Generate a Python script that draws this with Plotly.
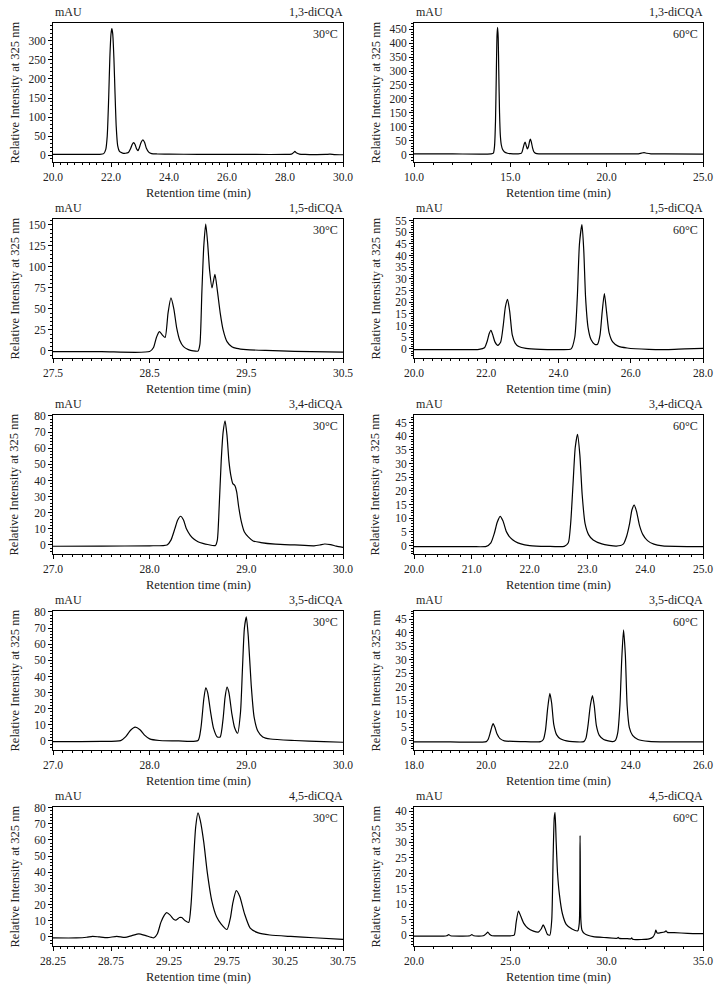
import plotly.graph_objects as go

# ---------------- data ----------------
compounds = ["1,3-diCQA", "1,5-diCQA", "3,4-diCQA", "3,5-diCQA", "4,5-diCQA"]
temperatures = ["30°C", "60°C"]

rt_13_30 = [20.0, 21.0, 21.6, 21.75, 21.82, 21.87, 21.92, 21.96, 22.0, 22.03, 22.06, 22.1, 22.14, 22.18, 22.23, 22.3, 22.4, 22.5, 22.6, 22.68, 22.73, 22.78, 22.83, 22.88, 22.93, 22.98, 23.04, 23.1, 23.16, 23.22, 23.3, 23.4, 23.6, 24.0, 25.0, 26.0, 27.0, 28.0, 28.22, 28.3, 28.34, 28.39, 28.5, 28.7, 29.0, 29.4, 29.55, 29.7, 30.0]
i_13_30 = [2, 2, 2.2, 4, 15, 50, 150, 255, 318, 332, 318, 255, 160, 75, 25, 9, 5.5, 5, 7, 18, 28, 33, 28, 17, 12, 20, 34, 40, 33, 18, 8, 4, 3, 2.5, 2.2, 2, 1.8, 1.8, 2.5, 7, 10, 6, 2.8, 2, 1.5, 1.8, 2.5, 1.5, 1]

rt_13_60 = [10.0, 12.0, 14.0, 14.12, 14.18, 14.23, 14.27, 14.31, 14.34, 14.37, 14.4, 14.44, 14.48, 14.53, 14.6, 14.7, 14.85, 15.0, 15.4, 15.58, 15.66, 15.72, 15.77, 15.82, 15.88, 15.94, 16.0, 16.04, 16.09, 16.15, 16.22, 16.32, 16.5, 17.0, 19.0, 21.0, 21.65, 21.8, 21.94, 22.08, 22.3, 23.0, 25.0]
i_13_60 = [2, 2, 2.2, 5, 30, 120, 280, 430, 457, 420, 300, 150, 70, 35, 18, 9, 4.5, 3, 2.5, 5, 22, 38, 45, 33, 20, 28, 48, 55, 45, 25, 10, 4, 2.5, 2.2, 2, 2, 2.5, 5, 7, 4.5, 2.5, 2, 1.5]

rt_15_30 = [27.5, 28.0, 28.5, 28.54, 28.57, 28.6, 28.63, 28.66, 28.69, 28.72, 28.75, 28.78, 28.81, 28.85, 28.9, 28.95, 29.0, 29.02, 29.04, 29.06, 29.08, 29.1, 29.12, 29.145, 29.175, 29.2, 29.23, 29.26, 29.3, 29.35, 29.4, 29.5, 29.7, 30.0, 30.5]
i_15_30 = [-1, -1, -0.8, 4, 16, 23, 19, 16, 45, 63, 50, 27, 13, 5, 1.5, 0, -0.3, 8, 70, 125, 151, 128, 96, 75, 91, 72, 45, 25, 11, 5, 3, 1.5, 0.5, -0.5, -1.5]

rt_15_60 = [20.0, 21.0, 21.8, 21.95, 22.03, 22.08, 22.13, 22.18, 22.24, 22.32, 22.4, 22.47, 22.53, 22.59, 22.65, 22.72, 22.8, 22.9, 23.1, 23.5, 24.0, 24.35, 24.45, 24.52, 24.58, 24.65, 24.7, 24.75, 24.82, 24.9, 25.0, 25.08, 25.15, 25.21, 25.27, 25.33, 25.4, 25.5, 25.65, 25.9, 26.5, 27.0, 27.5, 28.0]
i_15_60 = [-0.3, -0.3, -0.2, 0.5, 3.5, 6.5, 8, 6, 3, 1.5, 3, 10, 18, 21.2, 16, 6, 2.5, 1, 0.2, -0.2, -0.3, 0, 5, 22, 45, 53.3, 42, 22, 9, 4, 2, 2, 6, 16, 23.7, 16, 7, 3, 1.2, 0.4, -0.2, -0.3, 0, 0.2]

rt_34_30 = [27.0, 27.5, 28.0, 28.18, 28.22, 28.26, 28.29, 28.32, 28.35, 28.38, 28.42, 28.46, 28.5, 28.55, 28.6, 28.68, 28.7, 28.72, 28.74, 28.76, 28.78, 28.8, 28.82, 28.84, 28.86, 28.88, 28.9, 28.92, 28.95, 28.98, 29.02, 29.07, 29.15, 29.3, 29.5, 29.7, 29.76, 29.81, 29.87, 29.93, 30.0]
i_34_30 = [-0.8, -0.7, -0.5, 0, 3, 10, 15.5, 17.8, 15.5, 10, 6, 3.5, 2, 1, 0.3, -0.3, 3, 25, 52, 70, 77, 68, 52, 43, 38, 37, 33, 24, 14, 8, 5, 2.5, 1.5, 0.5, 0, -0.5, 0, 0.6, 0.2, -0.7, -1.5]

rt_34_60 = [20.0, 21.0, 21.25, 21.33, 21.39, 21.44, 21.49, 21.54, 21.6, 21.67, 21.75, 21.85, 22.0, 22.3, 22.6, 22.67, 22.71, 22.75, 22.79, 22.83, 22.87, 22.91, 22.96, 23.02, 23.1, 23.25, 23.5, 23.62, 23.68, 23.73, 23.77, 23.81, 23.85, 23.9, 23.96, 24.04, 24.15, 24.3, 25.0]
i_34_60 = [-0.4, -0.4, -0.3, 1, 4.5, 8.5, 10.7, 9, 5, 2.8, 1.5, 0.6, 0, -0.3, -0.3, 1, 8, 22, 36, 40.7, 33, 18.5, 8, 4, 2, 0.6, -0.2, 0.5, 3.5, 8, 13, 14.8, 12.5, 7.5, 4, 1.8, 0.5, -0.1, -0.4]

rt_35_30 = [27.0, 27.5, 27.7, 27.75, 27.8, 27.85, 27.9, 27.95, 28.0, 28.1, 28.3, 28.5, 28.53, 28.56, 28.58, 28.6, 28.63, 28.66, 28.7, 28.73, 28.76, 28.78, 28.8, 28.82, 28.85, 28.88, 28.91, 28.94, 28.96, 28.98, 29.0, 29.02, 29.05, 29.08, 29.12, 29.17, 29.25, 29.5, 29.8, 30.0]
i_35_30 = [-0.4, -0.3, 0.2, 2.5, 6.5, 8.6, 7, 3.5, 1.3, 0.3, 0, 0.3, 8, 26, 33, 30, 18, 8, 2.5, 2.5, 14, 27, 33.4, 30, 17, 8, 4.8, 18, 45, 70, 77, 65, 35, 15, 6, 2.5, 1.2, 0.3, -0.4, -0.8]

rt_35_60 = [18.0, 19.0, 20.0, 20.05, 20.1, 20.15, 20.19, 20.24, 20.3, 20.38, 20.5, 21.0, 21.5, 21.58, 21.64, 21.7, 21.76, 21.81, 21.87, 21.95, 22.05, 22.3, 22.7, 22.76, 22.82, 22.88, 22.94, 22.99, 23.05, 23.13, 23.25, 23.5, 23.58, 23.64, 23.7, 23.75, 23.8, 23.85, 23.9, 23.96, 24.05, 24.2, 24.5, 25.0, 26.0]
i_35_60 = [-0.4, -0.4, -0.3, 0.5, 2.5, 5, 6.4, 5, 2.5, 0.8, 0, -0.3, -0.3, 0.5, 4, 12, 17.6, 14, 6, 2.2, 0.8, -0.2, -0.3, 1, 6, 13, 16.8, 13, 5.5, 2, 0.5, -0.3, 0.3, 3, 13, 30, 41.1, 32, 13, 5, 2, 0.5, -0.2, -0.4, -0.4]

rt_45_30 = [28.25, 28.45, 28.54, 28.59, 28.65, 28.72, 28.8, 28.87, 28.93, 28.99, 29.05, 29.12, 29.15, 29.18, 29.21, 29.23, 29.26, 29.29, 29.31, 29.34, 29.36, 29.39, 29.42, 29.44, 29.46, 29.48, 29.5, 29.52, 29.55, 29.58, 29.62, 29.66, 29.7, 29.75, 29.78, 29.8, 29.83, 29.86, 29.9, 29.95, 30.02, 30.12, 30.3, 30.5, 30.75]
i_45_30 = [-0.6, -0.6, -0.2, 0.4, 0, -0.4, 0.4, -0.3, 0.8, 1.9, 0.8, -0.5, 2, 9, 13.5, 15, 13.5, 11, 10.4, 12, 12, 10, 9, 20, 45, 68, 76.8, 72, 58.5, 40, 22, 12.5, 8, 4.6, 12, 21, 28.6, 25, 14.6, 5.5, 2.5, 1.2, 0.3, -0.5, -1.5]

rt_45_60 = [20.0, 21.5, 21.7, 21.8, 21.9, 22.5, 22.9, 23.0, 23.1, 23.6, 23.75, 23.83, 23.92, 24.05, 24.5, 25.0, 25.2, 25.3, 25.42, 25.55, 25.7, 25.9, 26.2, 26.45, 26.6, 26.7, 26.8, 26.92, 27.05, 27.15, 27.22, 27.28, 27.32, 27.38, 27.45, 27.55, 27.7, 27.9, 28.2, 28.5, 28.58, 28.62, 28.66, 28.72, 28.85, 29.3, 30.0, 30.55, 30.6, 30.65, 31.0, 31.25, 31.3, 31.35, 31.8, 32.2, 32.4, 32.5, 32.55, 32.62, 32.8, 33.0, 33.08, 33.15, 33.5, 34.2, 35.0]
i_45_60 = [-0.3, -0.3, -0.2, 0.2, -0.2, -0.3, -0.2, 0.2, -0.2, -0.2, 0.5, 1.0, 0.3, -0.2, -0.2, -0.2, 0, 4, 7.8, 6, 3.8, 2.3, 1.3, 1, 2, 3.3, 2.2, 0.3, 0, 5, 25, 38, 39.6, 30, 20, 13, 7, 3.5, 2, 1.4, 4, 32.2, 5, 1.6, 0.5, -0.5, -0.8, -1.0, -0.7, -1.05, -1.1, -1.2, -0.9, -1.3, -1.4, -1.2, -0.6, 0.5, 1.6, 0.7, 0.8, 1.0, 1.4, 0.9, 0.8, 0.6, 0.5]

# x ranges / ticks, y ranges / ticks per panel (row, col)
x_ranges = [[(20, 30), (10, 25)], [(27.5, 30.5), (20, 28)], [(27, 30), (20, 25)], [(27, 30), (18, 26)], [(28.25, 30.75), (20, 35)]]
x_dticks = [[2, 5], [1, 2], [1, 1], [1, 2], [0.5, 5]]
x_minor = [[0.25, 1], [0.1, 0.25], [0.1, 0.2], [0.1, 0.25], [0.0625, 1]]
x_formats = [[".1f", ".1f"], [".1f", ".1f"], [".1f", ".1f"], [".1f", ".1f"], [".2f", ".1f"]]
y_ranges = [[(-18, 347), (-27, 473)], [(-8.5, 157), (-3.9, 55.7)], [(-5.6, 80.6), (-3.1, 47.8)], [(-5.6, 80.6), (-3.4, 48.1)], [(-5.6, 80.4), (-3.5, 41.4)]]
y_dticks = [[50, 50], [25, 5], [10, 5], [10, 5], [10, 5]]
y_tops = [[300, 450], [150, 55], [80, 45], [80, 45], [80, 40]]

series = [[(rt_13_30, i_13_30), (rt_13_60, i_13_60)],
          [(rt_15_30, i_15_30), (rt_15_60, i_15_60)],
          [(rt_34_30, i_34_30), (rt_34_60, i_34_60)],
          [(rt_35_30, i_35_30), (rt_35_60, i_35_60)],
          [(rt_45_30, i_45_30), (rt_45_60, i_45_60)]]

# ---------------- layout geometry ----------------
W, H = 719, 989
col_px = [(53, 343), (414, 703)]
row_top_px = [23, 219, 415, 611, 807]
plot_h = 139
FONT = "Liberation Serif"
TXT = "#222"

def px_x(p):
    return p / W

def px_y(p):
    return 1 - p / H

fig = go.Figure()
layout = dict(width=W, height=H, margin=dict(l=0, r=0, t=0, b=0, autoexpand=False),
              paper_bgcolor="white", plot_bgcolor="white", showlegend=False,
              font=dict(family=FONT, size=12, color=TXT))
annotations = []

for r in range(5):
    for c in range(2):
        k = r * 2 + c + 1
        xa = "xaxis" if k == 1 else f"xaxis{k}"
        ya = "yaxis" if k == 1 else f"yaxis{k}"
        xr = "x" if k == 1 else f"x{k}"
        yr = "y" if k == 1 else f"y{k}"
        x0p, x1p = col_px[c]
        t = row_top_px[r]
        b = t + plot_h
        xs, ys = series[r][c]
        fig.add_trace(go.Scatter(x=xs, y=ys, mode="lines", xaxis=xr, yaxis=yr,
                                 line=dict(color="black", width=1.2, shape="spline", smoothing=0.6),
                                 hoverinfo="skip"))
        xmin, xmax = x_ranges[r][c]
        layout[xa] = dict(domain=[px_x(x0p), px_x(x1p)], anchor=yr, range=[xmin, xmax],
                          tick0=xmin, dtick=x_dticks[r][c], tickformat=x_formats[r][c],
                          showline=True, linecolor="black", linewidth=1, mirror=True,
                          ticks="outside", ticklen=4, tickcolor="black", tickwidth=1,
                          showgrid=False, zeroline=False, automargin=False,
                          tickfont=dict(family=FONT, size=11.5, color=TXT),
                          minor=dict(ticks="outside", ticklen=2, dtick=x_minor[r][c],
                                     tick0=xmin, tickcolor="black", showgrid=False))
        ymin, ymax = y_ranges[r][c]
        yd = y_dticks[r][c]
        layout[ya] = dict(domain=[px_y(b), px_y(t)], anchor=xr, range=[ymin, ymax],
                          tickmode="array",
                          tickvals=list(range(0, y_tops[r][c] + 1, yd)),
                          showline=True, linecolor="black", linewidth=1, mirror=True,
                          ticks="outside", ticklen=4, tickcolor="black", tickwidth=1,
                          showgrid=False, zeroline=False, automargin=False,
                          tickfont=dict(family=FONT, size=11.5, color=TXT),
                          minor=dict(ticks="outside", ticklen=2, dtick=yd / 5, tick0=0,
                                     tickcolor="black", showgrid=False))
        annotations.append(dict(text="mAU", xref="paper", yref="paper", x=px_x(x0p), y=px_y(t - 2),
                                xanchor="left", yanchor="bottom", showarrow=False,
                                font=dict(family=FONT, size=12, color=TXT)))
        annotations.append(dict(text=compounds[r], xref="paper", yref="paper", x=px_x(x1p + 2), y=px_y(t - 2),
                                xanchor="right", yanchor="bottom", showarrow=False,
                                font=dict(family=FONT, size=12, color=TXT)))
        annotations.append(dict(text=temperatures[c], xref="paper", yref="paper", x=px_x(x1p - 3), y=px_y(t + 2),
                                xanchor="right", yanchor="top", showarrow=False,
                                font=dict(family=FONT, size=12, color=TXT)))
        annotations.append(dict(text="Retention time (min)", xref="paper", yref="paper",
                                x=px_x((x0p + x1p) / 2), y=px_y(b + 31),
                                xanchor="center", yanchor="middle", showarrow=False,
                                font=dict(family=FONT, size=12.5, color=TXT)))
        annotations.append(dict(text="Relative Intensity at 325 nm", xref="paper", yref="paper",
                                x=px_x(x0p - 39), y=px_y((t + b) / 2), textangle=-90,
                                xanchor="center", yanchor="middle", showarrow=False,
                                font=dict(family=FONT, size=12.5, color=TXT)))

layout["annotations"] = annotations
fig.update_layout(**layout)
fig.write_html("out.html", config={"displayModeBar": False},
               post_script="document.body.style.margin='0';document.body.style.overflow='hidden';")
